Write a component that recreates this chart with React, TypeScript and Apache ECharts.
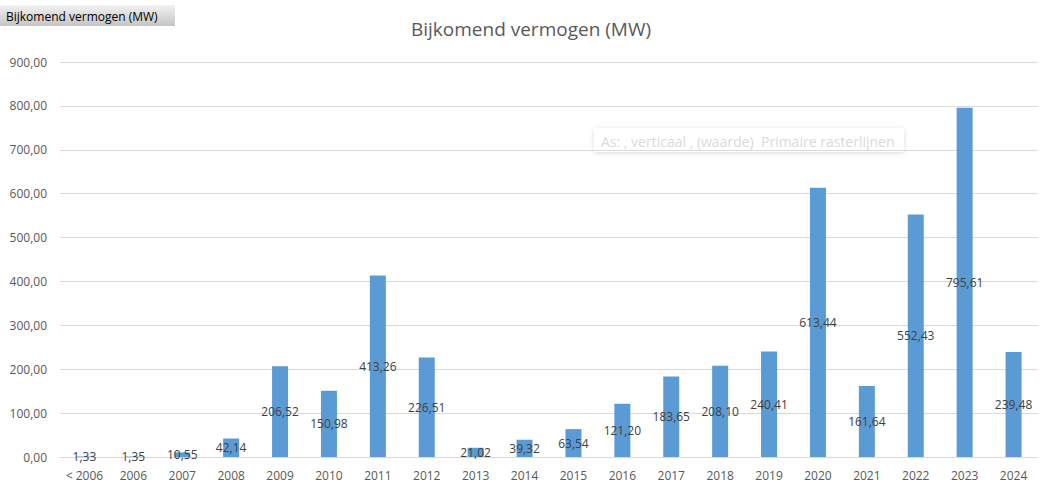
import React, { useEffect, useRef } from "react";
import * as echarts from "echarts";

const categories = ["< 2006", "2006", "2007", "2008", "2009", "2010", "2011", "2012", "2013", "2014", "2015", "2016", "2017", "2018", "2019", "2020", "2021", "2022", "2023", "2024"];
const values = [1.33, 1.35, 10.55, 42.14, 206.52, 150.98, 413.26, 226.51, 21.02, 39.32, 63.54, 121.2, 183.65, 208.1, 240.41, 613.44, 161.64, 552.43, 795.61, 239.48];
const titleText = "Bijkomend vermogen (MW)";
const tipText = "As: , verticaal , (waarde)  Primaire rasterlijnen";

const fmt = (v: number) => v.toFixed(2).replace(".", ",");
const FONT = "'Open Sans', 'Noto Sans', sans-serif";

export default function App() {
  const ref = useRef<HTMLDivElement>(null);
  useEffect(() => {
    document.body.style.margin = "0";
    const chart = echarts.init(ref.current!, null, { renderer: "svg" });
    chart.setOption({
      animation: false,
      backgroundColor: "#ffffff",
      textStyle: { fontFamily: FONT },
      title: {
        text: titleText,
        left: 526,
        top: 14,
        textAlign: "center",
        textStyle: { fontSize: 19, fontWeight: "normal", color: "#595959", fontFamily: FONT },
      },
      grid: { left: 60, right: 22, top: 62, bottom: 43, containLabel: false },
      xAxis: {
        type: "category",
        data: categories,
        axisLine: { lineStyle: { color: "#d9d9d9" } },
        axisTick: { show: false },
        axisLabel: { color: "#595959", fontSize: 12, margin: 12, interval: 0, fontFamily: FONT },
      },
      yAxis: {
        type: "value",
        min: 0,
        max: 900,
        interval: 100,
        axisLine: { show: false },
        axisTick: { show: false },
        splitLine: { lineStyle: { color: "#d9d9d9" } },
        axisLabel: { color: "#595959", fontSize: 12, margin: 13, formatter: (v: number) => fmt(v), fontFamily: FONT },
      },
      series: [
        {
          type: "bar",
          data: values,
          barWidth: 16,
          itemStyle: { color: "#5b9bd5" },
          label: {
            show: true,
            position: "inside",
            color: "#404040",
            fontSize: 12,
            fontFamily: FONT,
            formatter: (p: any) => fmt(p.value),
          },
        },
      ],
      graphic: [
        {
          type: "rect",
          shape: { x: 0, y: 5, width: 175, height: 21 },
          style: {
            fill: new echarts.graphic.LinearGradient(0, 0, 0, 1, [
              { offset: 0, color: "#f2f2f2" },
              { offset: 1, color: "#c4c4c4" },
            ]),
          },
        },
        {
          type: "text",
          x: 6,
          y: 16,
          style: { text: titleText, fill: "#000000", fontSize: 12, fontFamily: FONT, verticalAlign: "middle" },
        },
        {
          type: "rect",
          shape: { x: 594, y: 128, width: 310, height: 24, r: 2 },
          style: { fill: "#ffffff", shadowBlur: 5, shadowColor: "rgba(0,0,0,0.15)", shadowOffsetY: 1 },
        },
        {
          type: "text",
          x: 601,
          y: 141,
          style: { text: tipText, fill: "#dadada", fontSize: 14, fontFamily: FONT, verticalAlign: "middle" },
        },
      ],
    });
    return () => chart.dispose();
  }, []);
  return <div ref={ref} style={{ position: "absolute", left: 0, top: 0, width: 1060, height: 500 }} />;
}
